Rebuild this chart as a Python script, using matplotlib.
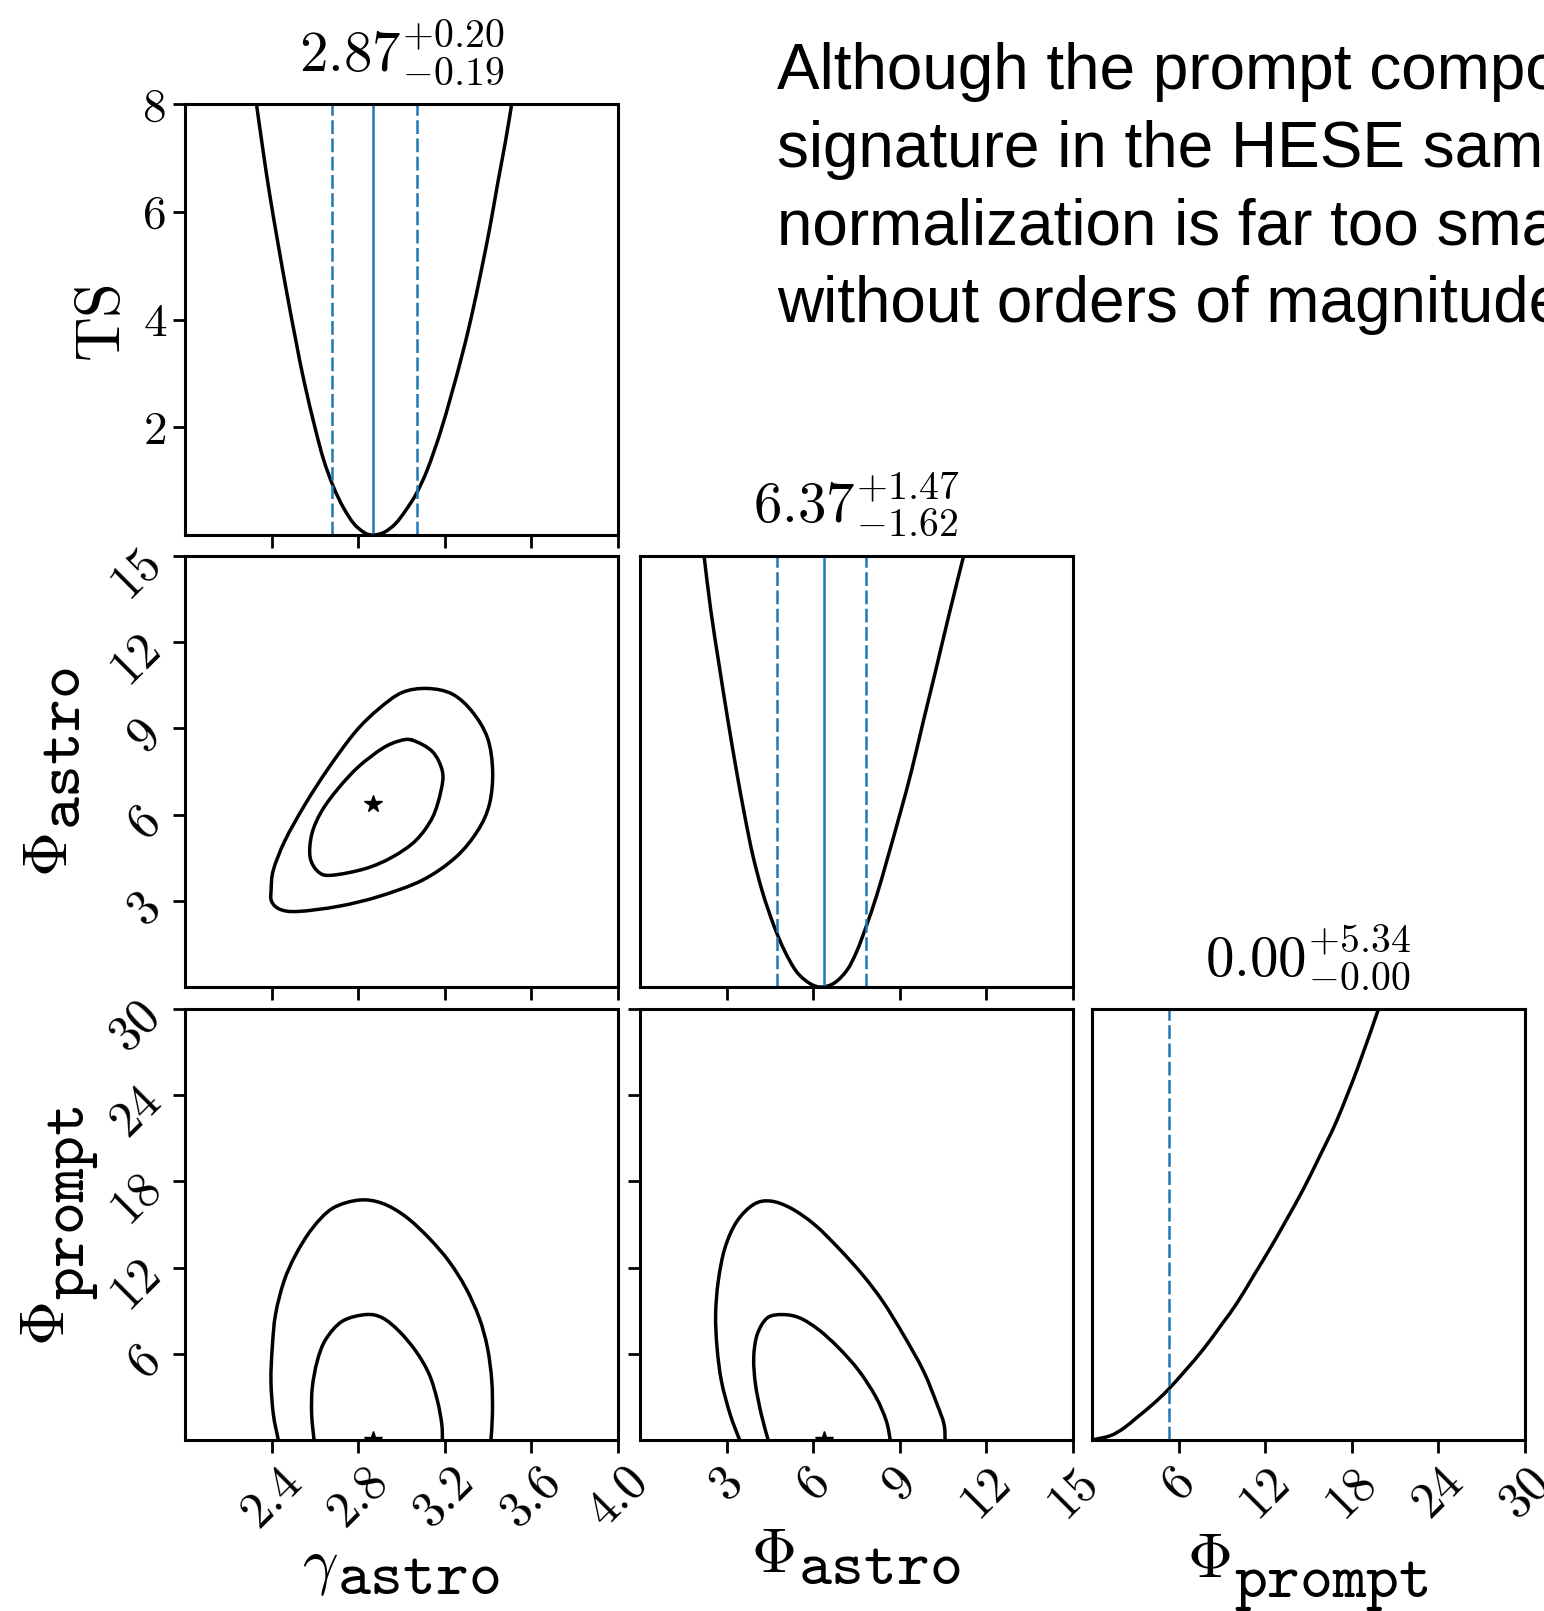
import matplotlib.pyplot as plt
from matplotlib.path import Path
from matplotlib.patches import PathPatch

plt.rcParams['mathtext.fontset'] = 'cm'
plt.rcParams['font.family'] = 'serif'
plt.rcParams['font.serif'] = ['cmr10']
plt.rcParams['axes.unicode_minus'] = False

# best fit and 1 sigma errors
gamma_best, gamma_lo, gamma_hi = 2.87, 0.19, 0.20
phia_best, phia_lo, phia_hi = 6.37, 1.62, 1.47
phip_best, phip_lo, phip_hi = 0.00, 0.00, 5.34

# axis ranges / ticks
gamma_lim = (2.0, 4.0)
phia_lim = (0, 15)
phip_lim = (0, 30)
ts_lim = (0, 8)
gamma_ticks = [2.4, 2.8, 3.2, 3.6, 4.0]
gamma_ticklabels = ['2.4', '2.8', '3.2', '3.6', '4.0']
phia_ticks = [3, 6, 9, 12, 15]
phia_ticklabels = ['3', '6', '9', '12', '15']
phip_ticks = [6, 12, 18, 24, 30]
phip_ticklabels = ['6', '12', '18', '24', '30']
ts_ticks = [2, 4, 6, 8]
ts_ticklabels = ['2', '4', '6', '8']

# 1D profile scans
gamma_scan = [2.330, 2.360, 2.390, 2.430, 2.470, 2.510, 2.550, 2.600, 2.640, 2.685,
              2.730, 2.780, 2.830, 2.868, 2.920, 2.972, 3.020, 3.070, 3.120, 3.179,
              3.230, 3.274, 3.320, 3.368, 3.410, 3.443, 3.480, 3.509]
gamma_ts = [8.0, 7.15, 6.35, 5.4, 4.5, 3.65, 2.85, 2.0, 1.4, 0.9,
            0.52, 0.21, 0.04, 0.0, 0.05, 0.21, 0.46, 0.78, 1.22, 1.9,
            2.6, 3.25, 4.0, 4.9, 5.75, 6.5, 7.3, 8.0]

phia_scan = [2.22, 2.45, 2.74, 3.03, 3.33, 3.62, 3.91, 4.25, 4.63, 5.00, 5.43, 5.90, 6.30,
             6.75, 7.18, 7.50, 7.82, 8.20, 8.58, 9.00, 9.40, 9.80, 10.21, 10.70, 11.21]
phia_ts = [8.0, 7.0, 5.98, 5.0, 4.05, 3.2, 2.44, 1.75, 1.15, 0.68, 0.28, 0.06, 0.0,
           0.08, 0.32, 0.65, 1.1, 1.7, 2.4, 3.2, 4.0, 4.9, 5.8, 6.9, 8.0]

phip_scan = [0.0, 1.27, 2.2, 3.12, 4.2, 5.26, 6.5, 7.73, 9.0, 10.04, 11.2, 12.35,
             13.5, 14.65, 15.8, 16.96, 18.4, 19.85]
phip_ts = [0.0, 0.08, 0.22, 0.42, 0.66, 0.93, 1.3, 1.69, 2.15, 2.54, 3.05, 3.56,
           4.1, 4.66, 5.28, 5.93, 6.9, 8.0]

# 2D contours: gamma vs phi_astro (closed)
ga_in_x = [3.050, 3.143, 3.189, 3.182, 3.143, 3.066, 2.957, 2.833, 2.679, 2.617,
           2.578, 2.586, 2.632, 2.710, 2.802, 2.911, 2.988]
ga_in_y = [8.59, 8.19, 7.50, 6.82, 5.90, 5.10, 4.52, 4.12, 3.89, 4.00,
           4.51, 5.33, 6.13, 6.93, 7.67, 8.30, 8.56]
ga_out_x = [3.120, 3.236, 3.329, 3.398, 3.421, 3.406, 3.352, 3.251, 3.097, 2.895,
            2.710, 2.524, 2.440, 2.400, 2.398, 2.408, 2.462, 2.555, 2.663, 2.787,
            2.895, 3.003]
ga_out_y = [10.39, 10.19, 9.56, 8.65, 7.50, 6.36, 5.44, 4.52, 3.72, 3.15,
            2.81, 2.63, 2.70, 2.98, 3.40, 4.07, 5.10, 6.36, 7.62, 8.88,
            9.68, 10.25]

# gamma vs phi_prompt (open at phi_prompt = 0)
gp_in_x = [2.596, 2.585, 2.588, 2.611, 2.650, 2.727, 2.835, 2.912, 2.989, 3.066,
           3.128, 3.166, 3.186, 3.189]
gp_in_y = [0.0, 1.80, 3.65, 5.50, 7.00, 8.27, 8.73, 8.50, 7.57, 6.19,
           4.57, 2.73, 1.11, 0.0]
gp_out_x = [2.431, 2.408, 2.397, 2.403, 2.418, 2.457, 2.511, 2.588, 2.681, 2.804,
            2.912, 3.020, 3.128, 3.220, 3.297, 3.359, 3.397, 3.417, 3.420, 3.413]
gp_out_y = [0.0, 1.80, 4.11, 6.42, 8.73, 11.04, 12.89, 14.73, 16.12, 16.70,
            16.47, 15.54, 14.04, 12.42, 10.58, 8.50, 6.42, 4.11, 1.80, 0.0]

# phi_astro vs phi_prompt (open at phi_prompt = 0)
ap_in_x = [4.44, 4.20, 4.00, 3.94, 4.06, 4.41, 4.94, 5.53, 6.18, 6.88,
           7.59, 8.18, 8.53, 8.67]
ap_in_y = [0.0, 1.80, 3.88, 5.73, 7.34, 8.50, 8.73, 8.50, 7.69, 6.42,
           4.80, 2.96, 1.34, 0.0]
ap_out_x = [3.45, 3.12, 2.82, 2.67, 2.62, 2.71, 2.94, 3.35, 3.94, 4.53,
            5.24, 6.06, 6.88, 7.71, 8.41, 9.12, 9.82, 10.29, 10.53, 10.57]
ap_out_y = [0.0, 1.80, 4.11, 6.42, 8.73, 11.04, 13.35, 15.20, 16.40, 16.63,
            16.12, 14.97, 13.35, 11.50, 9.65, 7.34, 4.80, 2.49, 1.11, 0.0]

text_lines = ["Although the prompt component",
              "signature in the HESE sample",
              "normalization is far too small",
              "without orders of magnitude"]

W, H = 1544, 1611
fig = plt.figure(figsize=(W / 100, H / 100), dpi=100)

col_x = [185, 640, 1092]
row_y = [104, 556, 1009]
aw, ah = 433, 431

def rect(r, c):
    return [col_x[c] / W, 1 - (row_y[r] + ah) / H, aw / W, ah / H]

blue = '#1f77b4'
lw_black = 2.5
lw_blue = 1.8
dash = (0, (5.5, 1.8))


def smooth_line(ax, xs, ys, closed=False):
    # draw a smooth (Catmull-Rom style bezier) curve through the read points
    pts = list(zip(xs, ys))
    n = len(pts)
    if closed:
        get = lambda i: pts[i % n]
        segs = range(n)
    else:
        get = lambda i: pts[min(max(i, 0), n - 1)]
        segs = range(n - 1)
    verts = [get(0)]
    codes = [Path.MOVETO]
    for i in segs:
        p0, p1, p2, p3 = get(i - 1), get(i), get(i + 1), get(i + 2)
        c1 = (p1[0] + (p2[0] - p0[0]) / 6, p1[1] + (p2[1] - p0[1]) / 6)
        c2 = (p2[0] - (p3[0] - p1[0]) / 6, p2[1] - (p3[1] - p1[1]) / 6)
        verts += [c1, c2, p2]
        codes += [Path.CURVE4] * 3
    ax.add_patch(PathPatch(Path(verts, codes), fill=False, edgecolor='k',
                           lw=lw_black, capstyle='round', joinstyle='round'))


lims = [gamma_lim, phia_lim, phip_lim]
ticks = [gamma_ticks, phia_ticks, phip_ticks]
tlabels = [gamma_ticklabels, phia_ticklabels, phip_ticklabels]

axes = {}
for r in range(3):
    for c in range(r + 1):
        ax = fig.add_axes(rect(r, c))
        axes[(r, c)] = ax
        for s in ax.spines.values():
            s.set_linewidth(2.2)
        ax.tick_params(direction='out', length=9, width=2, labelsize=36, pad=4)
        ax.set_xlim(lims[c])
        ax.set_xticks(ticks[c])
        if r < 2:
            ax.set_xticklabels([])
        else:
            ax.set_xticklabels(tlabels[c], rotation=45)
        if r == c:
            ax.set_ylim(ts_lim)
            if c == 0:
                ax.set_yticks(ts_ticks)
                ax.set_yticklabels(ts_ticklabels)
                ax.tick_params(axis='y', labelsize=34)
            else:
                ax.set_yticks([])
        else:
            ax.set_ylim(lims[r])
            ax.set_yticks(ticks[r])
            if c == 0:
                ax.set_yticklabels(tlabels[r], rotation=45)
                ax.tick_params(axis='y', pad=2)
            else:
                ax.set_yticklabels([])

title_fmt = r'$%.2f^{+%.2f}_{-%.2f}$'

# diagonal: profiles
ax = axes[(0, 0)]
smooth_line(ax, gamma_scan, gamma_ts)
ax.axvline(gamma_best, color=blue, lw=lw_blue)
ax.axvline(gamma_best - gamma_lo, color=blue, lw=lw_blue, ls=dash)
ax.axvline(gamma_best + gamma_hi, color=blue, lw=lw_blue, ls=dash)
ax.set_title(title_fmt % (gamma_best, gamma_hi, gamma_lo), fontsize=41, pad=24)

ax = axes[(1, 1)]
smooth_line(ax, phia_scan, phia_ts)
ax.axvline(phia_best, color=blue, lw=lw_blue)
ax.axvline(phia_best - phia_lo, color=blue, lw=lw_blue, ls=dash)
ax.axvline(phia_best + phia_hi, color=blue, lw=lw_blue, ls=dash)
ax.set_title(title_fmt % (phia_best, phia_hi, phia_lo), fontsize=41, pad=24)

ax = axes[(2, 2)]
smooth_line(ax, phip_scan, phip_ts)
ax.axvline(phip_best + phip_hi, color=blue, lw=lw_blue, ls=dash)
ax.set_title(title_fmt % (phip_best, phip_hi, phip_lo), fontsize=41, pad=24)

# 2D contours
ax = axes[(1, 0)]
smooth_line(ax, ga_in_x, ga_in_y, closed=True)
smooth_line(ax, ga_out_x, ga_out_y, closed=True)
ax.plot([gamma_best], [phia_best], marker='*', color='k', ms=13)

ax = axes[(2, 0)]
smooth_line(ax, gp_in_x, gp_in_y)
smooth_line(ax, gp_out_x, gp_out_y)
ax.plot([gamma_best], [phip_best], marker='*', color='k', ms=13)

ax = axes[(2, 1)]
smooth_line(ax, ap_in_x, ap_in_y)
smooth_line(ax, ap_out_x, ap_out_y)
ax.plot([phia_best], [phip_best], marker='*', color='k', ms=13)

# axis labels: symbol followed by a lowered typewriter word
LFS = 45
EM = LFS * 100 / 72


def xlabel2(cx, base, sym, sub, sym_w, drop):
    total = sym_w + 0.525 * len(sub)
    x0 = cx - total * EM / 2
    fig.text(x0 / W, 1 - base / H, sym, fontsize=LFS, ha='left', va='baseline')
    fig.text((x0 + sym_w * EM) / W, 1 - (base + drop * EM) / H,
             r'$\mathtt{%s}$' % sub, fontsize=LFS, ha='left', va='baseline')


def ylabel2(cy, base, sym, sub, sym_w, drop):
    total = sym_w + 0.525 * len(sub)
    y0 = cy + total * EM / 2
    fig.text(base / W, 1 - y0 / H, sym, fontsize=LFS, ha='left', va='baseline',
             rotation=90, rotation_mode='anchor')
    fig.text((base + drop * EM) / W, 1 - (y0 - sym_w * EM) / H,
             r'$\mathtt{%s}$' % sub, fontsize=LFS, ha='left', va='baseline',
             rotation=90, rotation_mode='anchor')


cxs = [col_x[c] + aw / 2 for c in range(3)]
cys = [row_y[r] + ah / 2 for r in range(3)]
xlabel2(cxs[0], 1582, r'$\gamma$', 'astro', 0.55, 0.2)
xlabel2(cxs[1], 1572, r'$\Phi$', 'astro', 0.75, 0.2)
xlabel2(cxs[2], 1577, r'$\Phi$', 'prompt', 0.75, 0.32)
fig.text(118 / W, 1 - cys[0] / H, 'TS', fontsize=LFS, ha='center', va='baseline',
         rotation=90, rotation_mode='anchor')
ylabel2(cys[1], 67, r'$\Phi$', 'astro', 0.75, 0.2)
ylabel2(cys[2], 64, r'$\Phi$', 'prompt', 0.75, 0.32)

# slide text beside the plot (runs off the right edge as in the slide)
for i, line in enumerate(text_lines):
    fig.text(777 / W, 1 - (89.5 + 77.4 * i) / H, line, fontsize=46,
             family='Liberation Sans', ha='left', va='baseline')

fig.savefig('out.png', dpi=100)
